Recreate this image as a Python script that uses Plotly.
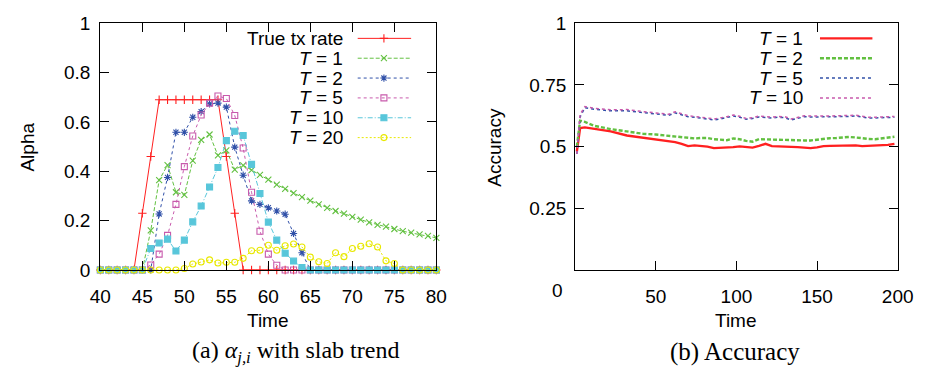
import plotly.graph_objects as go

# ---------------- data: (a) alpha with slab trend ----------------
time_a = list(range(40, 81))
true_rate = [0, 0, 0, 0, 0, 0.23, 0.46, 0.69, 0.69, 0.69, 0.69, 0.69, 0.69, 0.69, 0.69,
             0.46, 0.23] + [0] * 24
alpha_T1 = [0, 0, 0, 0, 0, 0, 0.16, 0.364, 0.425, 0.315, 0.304, 0.443, 0.527, 0.549, 0.464,
            0.485, 0.407, 0.424, 0.405, 0.385, 0.366, 0.346, 0.329, 0.311, 0.295, 0.281,
            0.266, 0.252, 0.239, 0.228, 0.215, 0.204, 0.193, 0.183, 0.176, 0.166, 0.157,
            0.151, 0.144, 0.138, 0.130]
alpha_T2 = [0, 0, 0, 0, 0, 0, 0, 0.227, 0.375, 0.558, 0.558, 0.619, 0.642, 0.673, 0.676,
            0.66, 0.498, 0.384, 0.28, 0.266, 0.252, 0.239, 0.226, 0.148, 0.07] + [0] * 16
alpha_T5 = [0, 0, 0, 0, 0, 0, 0.02, 0.064, 0.14, 0.266, 0.419, 0.543, 0.628, 0.676, 0.705,
            0.695, 0.626, 0.494, 0.315, 0.157, 0.064, 0.019] + [0] * 19
alpha_T10 = [0, 0, 0, 0, 0, 0, 0.087, 0.109, 0.125, 0.077, 0.121, 0.195, 0.259, 0.336, 0.415,
             0.524, 0.562, 0.545, 0.428, 0.31, 0.194, 0.121, 0.068, 0.036, 0.01] + [0] * 16
alpha_T20 = [0] * 10 + [0.006, 0.024, 0.032, 0.041, 0.028, 0.031, 0.031, 0.047, 0.078, 0.08,
                        0.1, 0.08, 0.098, 0.105, 0.093, 0.052, 0.033, 0.026, 0.07, 0.054,
                        0.087, 0.096, 0.106, 0.093, 0.037, 0.026] + [0] * 5

# ---------------- data: (b) accuracy ----------------
time_b = [1, 3, 6, 12, 22, 32, 42, 50, 58, 62, 66, 70, 74, 78, 82, 86, 90, 94, 98, 102, 106,
          110, 114, 118, 122, 126, 130, 134, 138, 142, 146, 150, 154, 158, 162, 166, 170, 174,
          178, 182, 186, 190, 194, 198]
acc_T1 = [0.48, 0.575, 0.578, 0.572, 0.562, 0.545, 0.536, 0.530, 0.521, 0.518, 0.511, 0.502,
          0.505, 0.504, 0.500, 0.494, 0.495, 0.496, 0.498, 0.501, 0.498, 0.496, 0.503, 0.511,
          0.502, 0.500, 0.498, 0.499, 0.498, 0.497, 0.494, 0.497, 0.502, 0.503, 0.504, 0.505,
          0.507, 0.505, 0.502, 0.503, 0.502, 0.503, 0.507, 0.511]
acc_T2 = [0.50, 0.605, 0.600, 0.584, 0.571, 0.562, 0.552, 0.549, 0.543, 0.542, 0.540, 0.537,
          0.533, 0.535, 0.535, 0.530, 0.527, 0.526, 0.533, 0.530, 0.523, 0.520, 0.530, 0.529,
          0.527, 0.527, 0.526, 0.526, 0.526, 0.525, 0.525, 0.528, 0.533, 0.534, 0.535, 0.537,
          0.539, 0.537, 0.533, 0.531, 0.530, 0.533, 0.536, 0.540]
acc_T5 = [0.47, 0.62, 0.658, 0.651, 0.645, 0.645, 0.638, 0.632, 0.627, 0.637, 0.628, 0.621,
          0.619, 0.616, 0.612, 0.608, 0.612, 0.617, 0.624, 0.619, 0.611, 0.614, 0.620, 0.618,
          0.616, 0.619, 0.617, 0.608, 0.615, 0.621, 0.620, 0.620, 0.620, 0.621, 0.622, 0.623,
          0.622, 0.624, 0.620, 0.616, 0.616, 0.616, 0.617, 0.619]
acc_T10 = [0.47, 0.63, 0.662, 0.655, 0.649, 0.650, 0.642, 0.636, 0.631, 0.641, 0.632, 0.625,
           0.622, 0.620, 0.616, 0.612, 0.615, 0.621, 0.628, 0.623, 0.614, 0.617, 0.624, 0.622,
           0.619, 0.622, 0.621, 0.612, 0.618, 0.625, 0.624, 0.623, 0.623, 0.624, 0.625, 0.626,
           0.625, 0.627, 0.623, 0.619, 0.619, 0.619, 0.620, 0.622]

legend_a = ["True tx rate", "<i>T</i> = 1", "<i>T</i> = 2", "<i>T</i> = 5",
            "<i>T</i> = 10", "<i>T</i> = 20"]
legend_b = ["<i>T</i> = 1", "<i>T</i> = 2", "<i>T</i> = 5", "<i>T</i> = 10"]
ticks_a_x = list(range(40, 81, 5))
ticks_a_y = [0, 0.2, 0.4, 0.6, 0.8, 1]
ticks_b_x = [50, 100, 150, 200]
ticks_b_y = [0.25, 0.5, 0.75, 1]

# ---------------- styling ----------------
W, H = 936, 384
RED, GREEN, BLUE, PINK, CYAN, YELLOW = "#ff2020", "#62c040", "#3050a8", "#c85aac", "#58c6da", "#e8e800"
FONT = "Liberation Sans, Arial, sans-serif"
SERIF = "Liberation Serif, Times New Roman, serif"

styles_a = [
    dict(color=RED, dash="solid", symbol="cross-thin-open", size=6),
    dict(color=GREEN, dash="4px,2px", symbol="x-thin-open", size=6),
    dict(color=BLUE, dash="dot", symbol="asterisk-open", size=6),
    dict(color=PINK, dash="dot", symbol="square-open", size=6),
    dict(color=CYAN, dash="5px,2px,1px,2px", symbol="square", size=6),
    dict(color=YELLOW, dash="2px,2px", symbol="circle-open", size=6),
]
styles_b = [
    dict(color=RED, dash="solid", width=2.4),
    dict(color=GREEN, dash="4px,2px", width=2.4),
    dict(color=BLUE, dash="dot", width=1.5),
    dict(color=PINK, dash="dot", width=1.5),
]

fig = go.Figure()

series_a = [true_rate, alpha_T1, alpha_T2, alpha_T5, alpha_T10, alpha_T20]
for vals, st in zip(series_a, styles_a):
    fig.add_trace(go.Scatter(
        x=time_a, y=vals, mode="lines+markers", xaxis="x", yaxis="y",
        line=dict(color=st["color"], dash=st["dash"], width=1),
        marker=dict(symbol=st["symbol"], size=st["size"], color=st["color"],
                    line=dict(color=st["color"], width=1.1)),
        showlegend=False, cliponaxis=False))

series_b = [acc_T1, acc_T2, acc_T5, acc_T10]
for vals, st in zip(series_b, styles_b):
    fig.add_trace(go.Scatter(
        x=time_b, y=vals, mode="lines", xaxis="x2", yaxis="y2",
        line=dict(color=st["color"], dash=st["dash"], width=st["width"]),
        showlegend=False))

# ---------------- custom legends (text left of sample, gnuplot style) ----------------
annotations = []
rows_a = [30, 51, 72, 93, 114, 135]
for name, st, yy in zip(legend_a, styles_a, rows_a):
    fig.add_trace(go.Scatter(
        x=[357, 384, 412], y=[yy, yy, yy], mode="lines+markers", xaxis="x3", yaxis="y3",
        line=dict(color=st["color"], dash=st["dash"], width=1),
        marker=dict(symbol=st["symbol"], size=st["size"], color=st["color"],
                    line=dict(color=st["color"], width=1.1), opacity=[0, 1, 0]),
        showlegend=False, hoverinfo="skip"))
    annotations.append(dict(x=344, y=yy, xref="x3", yref="y3", text=name, showarrow=False,
                            xanchor="right", yanchor="middle",
                            font=dict(family=FONT, size=19, color="black")))

rows_b = [30, 51, 72, 93]
for name, st, yy in zip(legend_b, styles_b, rows_b):
    fig.add_trace(go.Scatter(
        x=[833, 887], y=[yy, yy], mode="lines", xaxis="x3", yaxis="y3",
        line=dict(color=st["color"], dash=st["dash"], width=st["width"]),
        showlegend=False, hoverinfo="skip"))
    annotations.append(dict(x=818, y=yy, xref="x3", yref="y3", text=name, showarrow=False,
                            xanchor="right", yanchor="middle",
                            font=dict(family=FONT, size=19, color="black")))

# axis titles, captions, stray "0" label
txt = lambda x, y, s, **kw: dict(x=x, y=y, xref="x3", yref="y3", text=s, showarrow=False,
                                 xanchor="center", yanchor="middle", **kw)
annotations += [
    txt(17, 145, "Alpha", textangle=-90, font=dict(family=FONT, size=19, color="black")),
    txt(265, 328, "Time", font=dict(family=FONT, size=19, color="black")),
    txt(497, 145, "Accuracy", textangle=-90, font=dict(family=FONT, size=19, color="black")),
    txt(747, 328, "Time", font=dict(family=FONT, size=19, color="black")),
    txt(563, 297, "0", font=dict(family=FONT, size=19, color="black")),
    txt(293, 362, "(a) <i>α</i><sub><i>j,i</i></sub> with slab trend",
        font=dict(family=SERIF, size=24, color="black")),
    txt(746, 362, "(b) Accuracy", font=dict(family=SERIF, size=25, color="black")),
]

def dom(a, b, total):
    return [a / total, b / total]

axis_common = dict(showline=True, linecolor="black", linewidth=1.3, mirror="allticks",
                   ticks="inside", ticklen=9, tickwidth=1, tickcolor="black",
                   showgrid=False, zeroline=False,
                   tickfont=dict(family=FONT, size=19, color="black"))

fig.update_layout(
    width=W, height=H, margin=dict(l=0, r=0, t=0, b=0),
    paper_bgcolor="white", plot_bgcolor="rgba(0,0,0,0)",
    xaxis=dict(domain=dom(92, 438, W), range=[40, 80], tickvals=ticks_a_x, anchor="y",
               ticklabelstandoff=9, **axis_common),
    yaxis=dict(domain=[1 - 275 / H, 1 - 14 / H], range=[0, 1], tickvals=ticks_a_y,
               ticktext=["0", "0.2", "0.4", "0.6", "0.8", "1"], anchor="x",
               ticklabelstandoff=5, **axis_common),
    xaxis2=dict(domain=dom(581, 913, W), range=[0, 200], tickvals=ticks_b_x, anchor="y2",
                ticklabelstandoff=9, **axis_common),
    yaxis2=dict(domain=[1 - 275 / H, 1 - 14 / H], range=[0, 1], tickvals=ticks_b_y,
                ticktext=["0.25", "0.5", "0.75", "1"], anchor="x2",
                ticklabelstandoff=4, **axis_common),
    xaxis3=dict(domain=[0, 1], range=[0, W], visible=False, anchor="y3", fixedrange=True),
    yaxis3=dict(domain=[0, 1], range=[H, 0], visible=False, anchor="x3", fixedrange=True),
    annotations=annotations,
    showlegend=False,
)

fig.write_html("out.html")
